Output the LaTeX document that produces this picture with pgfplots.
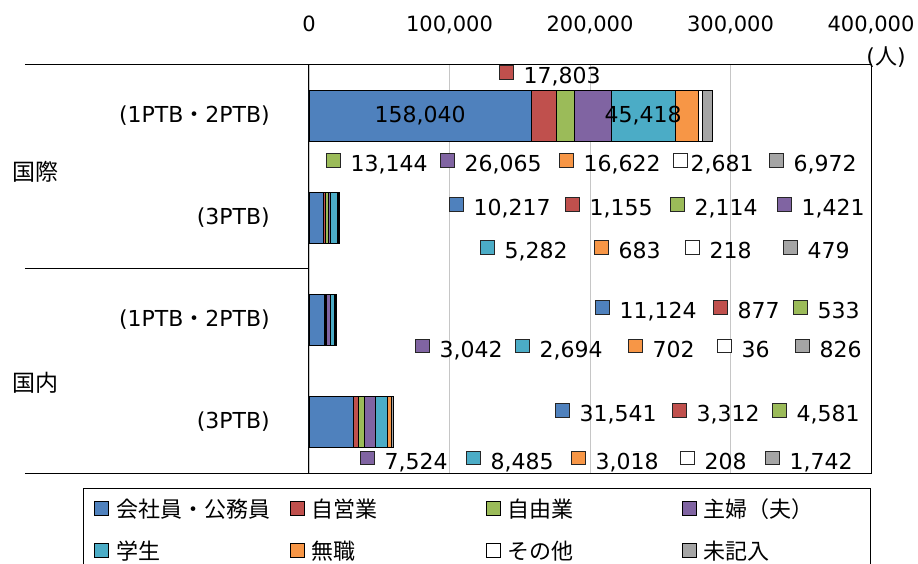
\documentclass[border=0pt]{standalone}
\usepackage{pgfplots}
\usepackage{pgfplotstable}
\pgfplotsset{compat=1.18}
\usepackage{fontspec}
\setmainfont{DejaVu Sans}
\newfontfamily\jp{Noto Sans CJK JP}
\definecolor{cblue}{HTML}{4F81BD}
\definecolor{cred}{HTML}{C0504D}
\definecolor{cgreen}{HTML}{9BBB59}
\definecolor{cpurple}{HTML}{8064A2}
\definecolor{ccyan}{HTML}{4BACC6}
\definecolor{corange}{HTML}{F79646}
\definecolor{cwhite}{HTML}{FFFFFF}
\definecolor{cgray}{HTML}{A5A5A5}
\newcommand{\keybox}[1]{{\setlength{\fboxsep}{0pt}\setlength{\fboxrule}{1pt}\raisebox{5pt}{\fcolorbox{black!85}{#1}{\rule{0pt}{12.5pt}\rule{12.5pt}{0pt}}}}}
\newcommand{\lab}[5]{\node[anchor=base west,inner sep=0pt,font=\fontsize{22}{26}\selectfont] at (axis cs:#1,#2) {\keybox{#3}\hspace{#4pt}#5};}
\pgfplotsset{sqlegend/.style={legend image code/.code={\draw[##1,line width=0.8pt] (0pt,-7pt) rectangle (14pt,7pt);}}}
\pgfplotstableread{
cat blue red green purple cyan orange white gray
0 158040 17803 13144 26065 45418 16622 2681 6972
1 10217 1155 2114 1421 5282 683 218 479
2 11124 877 533 3042 2694 702 36 826
3 31541 3312 4581 7524 8485 3018 208 1742
}\datatable
\begin{document}
\begin{tikzpicture}
\begin{axis}[
  scale only axis, width=562pt, height=408pt,
  xbar stacked, bar width=51pt,
  xmin=0, xmax=400000, ymin=-0.5, ymax=3.5, y dir=reverse,
  clip=false,
  axis line style={black, line width=1pt},
  xtick={0,100000,200000,300000,400000},
  scaled x ticks=false,
  xticklabel pos=right,
  xticklabel style={font=\fontsize{21}{25}\selectfont, anchor=base, yshift=33pt, inner sep=0pt},
  /pgf/number format/.cd, fixed, 1000 sep={,}, assume math mode=true, /pgfplots/.cd,
  ytick={0,1,2,3},
  yticklabels={{(1PTB{\jp ・}2PTB)},{(3PTB)},{(1PTB{\jp ・}2PTB)},{(3PTB)}},
  yticklabel style={font=\fontsize{22}{26}\selectfont, anchor=east, inner sep=0pt, xshift=-39pt},
  major tick length=0pt,
  xmajorgrids, major grid style={gray!45, line width=0.8pt},
  legend columns=4,
  legend style={at={(1.0,-0.0368)}, anchor=north east, draw=black, line width=1pt,
    font=\jp\fontsize{22}{26}\selectfont,
    /tikz/every odd column/.append style={column sep=5pt},
    /tikz/every even column/.append style={column sep=2pt},
    row sep=18pt, inner xsep=11pt, inner ysep=8pt},
]
\addplot[fill=cblue, draw=black, line width=0.8pt, sqlegend] table[x=blue, y=cat] {\datatable};
\addplot[fill=cred, draw=black, line width=0.8pt, sqlegend] table[x=red, y=cat] {\datatable};
\addplot[fill=cgreen, draw=black, line width=0.8pt, sqlegend] table[x=green, y=cat] {\datatable};
\addplot[fill=cpurple, draw=black, line width=0.8pt, sqlegend] table[x=purple, y=cat] {\datatable};
\addplot[fill=ccyan, draw=black, line width=0.8pt, sqlegend] table[x=cyan, y=cat] {\datatable};
\addplot[fill=corange, draw=black, line width=0.8pt, sqlegend] table[x=orange, y=cat] {\datatable};
\addplot[fill=cwhite, draw=black, line width=0.8pt, sqlegend] table[x=white, y=cat] {\datatable};
\addplot[fill=cgray, draw=black, line width=0.8pt, sqlegend] table[x=gray, y=cat] {\datatable};
\legend{\makebox[170pt][l]{会社員・公務員},\makebox[170pt][l]{自営業},\makebox[170pt][l]{自由業},\makebox[154pt][l]{主婦（夫）},\makebox[170pt][l]{学生},\makebox[170pt][l]{無職},\makebox[170pt][l]{その他},\makebox[154pt][l]{未記入}}
\coordinate (inA) at (axis cs:79020,0);
\coordinate (inB) at (axis cs:237761,0);
% outside labels
\lab{135223}{-0.3137}{cred}{10}{17,803}
\lab{12099}{0.549}{cgreen}{10}{13,144}
\lab{93233}{0.549}{cpurple}{10}{26,065}
\lab{177925}{0.549}{corange}{10}{16,622}
\lab{259059}{0.549}{cwhite}{3}{2,681}
\lab{327382}{0.549}{cgray}{10}{6,972}
\lab{99638}{0.980}{cblue}{10}{10,217}
\lab{182195}{0.980}{cred}{10}{1,155}
\lab{256924}{0.980}{cgreen}{10}{2,114}
\lab{333076}{0.980}{cpurple}{10}{1,421}
\lab{121701}{1.402}{ccyan}{10}{5,282}
\lab{202835}{1.402}{corange}{10}{683}
\lab{267599}{1.402}{cwhite}{10}{218}
\lab{337346}{1.402}{cgray}{10}{479}
\lab{203546}{1.990}{cblue}{10}{11,124}
\lab{287527}{1.990}{cred}{10}{877}
\lab{344463}{1.990}{cgreen}{10}{533}
\lab{75440}{2.363}{cpurple}{10}{3,042}
\lab{146610}{2.363}{ccyan}{10}{2,694}
\lab{227032}{2.363}{corange}{10}{702}
\lab{290374}{2.363}{cwhite}{10}{36}
\lab{345886}{2.363}{cgray}{10}{826}
\lab{175078}{3.0}{cblue}{10}{31,541}
\lab{258347}{3.0}{cred}{10}{3,312}
\lab{329517}{3.0}{cgreen}{10}{4,581}
\lab{36297}{3.461}{cpurple}{10}{7,524}
\lab{111737}{3.461}{ccyan}{10}{8,485}
\lab{186465}{3.461}{corange}{10}{3,018}
\lab{264041}{3.461}{cwhite}{10}{208}
\lab{324535}{3.461}{cgray}{10}{1,742}
% unit
\node[font=\fontsize{22}{26}\selectfont, inner sep=0pt] at (axis cs:410651,-0.578) {({\jp 人})};
% group labels and separators
\node[anchor=west, font=\jp\fontsize{23}{28}\selectfont, inner sep=0pt] at (axis cs:-211375,0.549) {国際};
\node[anchor=west, font=\jp\fontsize{23}{28}\selectfont, inner sep=0pt] at (axis cs:-211375,2.618) {国内};
\draw[black, line width=1pt] (axis cs:-202123,-0.5) -- (axis cs:0,-0.5);
\draw[black, line width=1pt] (axis cs:-202123,1.5) -- (axis cs:0,1.5);
\draw[black, line width=1pt] (axis cs:-202123,3.5) -- (axis cs:0,3.5);
\coordinate (bbtl) at (axis cs:-219915,-1.137);
\coordinate (bbbr) at (axis cs:433425,4.392);
\end{axis}
\node[font=\fontsize{22}{26}\selectfont] at (inA) {158,040};
\node[font=\fontsize{22}{26}\selectfont] at (inB) {45,418};
\pgfresetboundingbox
\useasboundingbox (bbtl) rectangle (bbbr);
\end{tikzpicture}
\end{document}
